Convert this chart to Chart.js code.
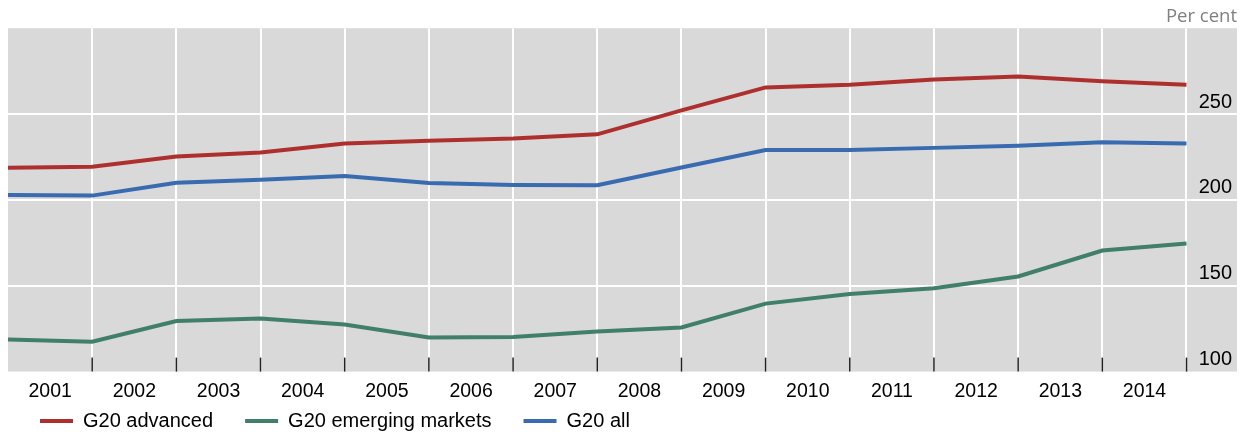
<!DOCTYPE html>
<html>
<head>
<meta charset="utf-8">
<script src="https://cdn.jsdelivr.net/npm/chart.js@4/dist/chart.umd.min.js"></script>
<style>
  body { margin: 0; background: #fff; }
  #wrap { width: 1250px; height: 437px; }
</style>
</head>
<body>
<div id="wrap"><canvas id="debtChart" width="1250" height="437"></canvas></div>
<script>
const years = ['2001', '2002', '2003', '2004', '2005', '2006', '2007',
               '2008', '2009', '2010', '2011', '2012', '2013', '2014'];
const yTicks = [100, 150, 200, 250];

// one value per year boundary (start of 2001 ... end of 2014)
const g20Advanced = [218.7, 219.3, 225.3, 227.6, 232.8, 234.4, 235.7, 238.2,
                     252.1, 265.5, 267.0, 270.1, 271.8, 269.1, 267.0];
const g20Emerging = [118.7, 117.4, 129.5, 130.9, 127.4, 119.9, 120.1, 123.4,
                     125.7, 139.6, 145.2, 148.5, 155.4, 170.5, 174.6];
const g20All = [202.9, 202.5, 210.0, 211.8, 213.9, 209.9, 208.7, 208.5,
                218.9, 229.0, 229.1, 230.3, 231.5, 233.6, 232.8];

const RED = 'rgb(174, 48, 46)';
const GREEN = 'rgb(64, 127, 106)';
const BLUE = 'rgb(57, 107, 177)';
const FONT = 'Liberation Sans, Arial, sans-serif';

const toPoints = arr => arr.map((v, i) => ({ x: i, y: v }));

// grey plot panel
const plotBackground = {
    id: 'plotBackground',
    beforeDraw(chart) {
        const { ctx, chartArea } = chart;
        ctx.save();
        ctx.fillStyle = '#d9d9d9';
        ctx.fillRect(chartArea.left, chartArea.top,
                     chartArea.right - chartArea.left, chartArea.bottom - chartArea.top);
        ctx.restore();
    }
};

// short tick marks pointing up into the panel
const innerTicks = {
    id: 'innerTicks',
    afterDatasetsDraw(chart) {
        const { ctx, chartArea, scales } = chart;
        const x = scales.x;
        ctx.save();
        ctx.strokeStyle = '#222';
        ctx.lineWidth = 1.5;
        x.ticks.forEach(t => {
            if (t.value === 0) return;
            const px = x.getPixelForValue(t.value);
            ctx.beginPath();
            ctx.moveTo(px, chartArea.bottom);
            ctx.lineTo(px, chartArea.bottom - 14);
            ctx.stroke();
        });
        ctx.restore();
    }
};

function makeLine(label, values, color) {
    return {
        label: label,
        data: toPoints(values),
        borderColor: color,
        backgroundColor: color,
        borderWidth: 4,
        pointRadius: 0,
        tension: 0,
        fill: false
    };
}

const ctx = document.getElementById('debtChart').getContext('2d');
new Chart(ctx, {
    type: 'line',
    data: {
        datasets: [
            makeLine('G20 advanced', g20Advanced, RED),
            makeLine('G20 emerging markets', g20Emerging, GREEN),
            makeLine('G20 all', g20All, BLUE)
        ]
    },
    options: {
        responsive: false,
        animation: false,
        devicePixelRatio: 1,
        layout: { padding: { left: 8, right: 13, top: 6, bottom: -4 } },
        scales: {
            x: {
                type: 'linear',
                min: 0,
                max: 14.6,
                afterBuildTicks: axis => {
                    axis.ticks = g20All.map((_, i) => ({ value: i }));
                },
                ticks: {
                    autoSkip: false,
                    maxRotation: 0,
                    padding: 8,
                    labelOffset: -42,
                    color: '#000',
                    font: { family: FONT, size: 19.5, lineHeight: 1.2 },
                    callback: value => (value >= 1 ? years[value - 1] : '')
                },
                grid: {
                    color: c => (c.tick && c.tick.value === 0 ? 'rgba(0,0,0,0)' : '#ffffff'),
                    lineWidth: 2,
                    drawTicks: false
                },
                border: { display: false }
            },
            y: {
                position: 'right',
                min: 100,
                max: 300,
                afterBuildTicks: axis => {
                    axis.ticks = yTicks.map(v => ({ value: v }));
                },
                ticks: {
                    mirror: true,
                    padding: -5,
                    labelOffset: -12,
                    color: '#000',
                    font: { family: FONT, size: 20 }
                },
                grid: {
                    color: c => (c.tick && c.tick.value === 100 ? 'rgba(0,0,0,0)' : '#ffffff'),
                    lineWidth: 2,
                    drawTicks: false
                },
                border: { display: false }
            }
        },
        plugins: {
            title: {
                display: true,
                text: 'Per cent',
                align: 'end',
                fullSize: false,
                color: '#808080',
                font: { family: 'Open Sans, sans-serif', size: 18.5, weight: 'normal', lineHeight: 1.2 },
                padding: 0
            },
            legend: {
                position: 'bottom',
                align: 'start',
                // empty title with negative padding cancels the label padding above the row
                title: { display: true, text: '', padding: { top: -33, bottom: 0 }, font: { size: 1, lineHeight: 1 } },
                labels: {
                    boxWidth: 33,
                    boxHeight: 4,
                    padding: 32,
                    color: '#000',
                    font: { family: FONT, size: 20 },
                    generateLabels: chart =>
                        Chart.defaults.plugins.legend.labels.generateLabels(chart)
                            .map(item => ({ ...item, lineWidth: 0 }))
                }
            },
            tooltip: { enabled: false }
        }
    },
    plugins: [plotBackground, innerTicks]
});
</script>
</body>
</html>
